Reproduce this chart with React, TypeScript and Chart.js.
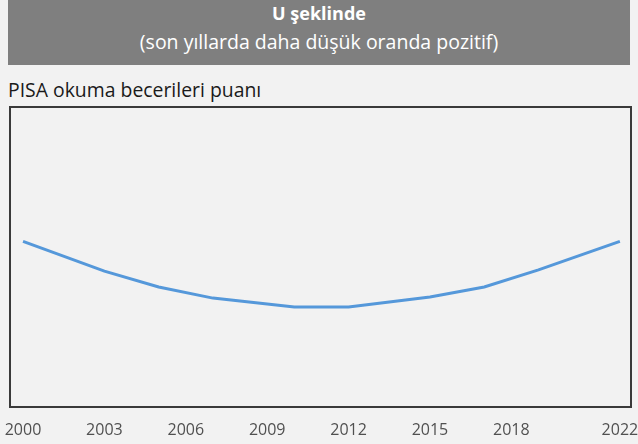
import React, { useEffect, useRef } from "react";
import { Chart, registerables } from "chart.js";

Chart.register(...registerables);

const titleText = "U şeklinde";
const subtitleText = "(son yıllarda daha düşük oranda pozitif)";
const axisLabel = "PISA okuma becerileri puanı";

const years = [2000, 2003, 2005, 2007, 2010, 2012, 2015, 2017, 2019, 2022];
const scoreIndex = [55.2, 45.3, 40.0, 36.3, 33.3, 33.3, 36.7, 40.0, 45.7, 55.2];
const tickYears = [2000, 2003, 2006, 2009, 2012, 2015, 2018, 2022];

const FONT = "'Open Sans', 'Noto Sans', sans-serif";

const boxAndTicksPlugin = {
  id: "boxAndTicks",
  afterDraw(chart: any) {
    const { ctx, chartArea } = chart;
    const xs = chart.scales.x;
    ctx.save();
    ctx.strokeStyle = "#3a3a3a";
    ctx.lineWidth = 2;
    ctx.strokeRect(chartArea.left, chartArea.top, chartArea.right - chartArea.left, chartArea.bottom - chartArea.top);
    ctx.fillStyle = "#505050";
    ctx.font = `16px ${FONT}`;
    ctx.textAlign = "center";
    ctx.textBaseline = "middle";
    tickYears.forEach((v) => {
      ctx.fillText(String(v), xs.getPixelForValue(v), chartArea.bottom + 23);
    });
    ctx.restore();
  },
};

export default function App() {
  const ref = useRef<HTMLCanvasElement>(null);
  useEffect(() => {
    if (!ref.current) return;
    const chart = new Chart(ref.current, {
      type: "line",
      data: {
        datasets: [
          {
            label: axisLabel,
            data: years.map((y, i) => ({ x: y, y: scoreIndex[i] })),
            borderColor: "#5598da",
            borderWidth: 3,
            pointRadius: 0,
            tension: 0,
            fill: false,
          },
        ],
      },
      options: {
        animation: false,
        responsive: false,
        maintainAspectRatio: false,
        layout: { padding: { left: 10, right: 7, top: 7, bottom: 37 } },
        plugins: { legend: { display: false }, tooltip: { enabled: false }, title: { display: false } },
        scales: {
          x: {
            type: "linear",
            display: false,
            min: 1999.52,
            max: 2022.41,
          },
          y: {
            display: false,
            min: 0,
            max: 100,
          },
        },
      },
      plugins: [boxAndTicksPlugin],
    });
    return () => chart.destroy();
  }, []);

  return (
    <div style={{ position: "fixed", left: 0, top: 0, width: 638, height: 444, background: "#f2f2f2", fontFamily: FONT, overflow: "hidden" }}>
      <div style={{ position: "absolute", left: 8, top: 0, width: 622, height: 65, background: "#7f7f7f" }} />
      <div style={{ position: "absolute", left: 8, width: 622, top: 3, textAlign: "center", color: "#fff", fontWeight: 700, fontSize: 18, lineHeight: "20px" }}>{titleText}</div>
      <div style={{ position: "absolute", left: 8, width: 622, top: 32, textAlign: "center", color: "#fff", fontSize: 19.5, lineHeight: "20px", whiteSpace: "nowrap" }}>{subtitleText}</div>
      <div style={{ position: "absolute", left: 8, top: 79, color: "#1a1a1a", fontSize: 19.4, lineHeight: "22px", whiteSpace: "nowrap" }}>{axisLabel}</div>
      <canvas ref={ref} width={638} height={344} style={{ position: "absolute", left: 0, top: 100, width: 638, height: 344 }} />
    </div>
  );
}
